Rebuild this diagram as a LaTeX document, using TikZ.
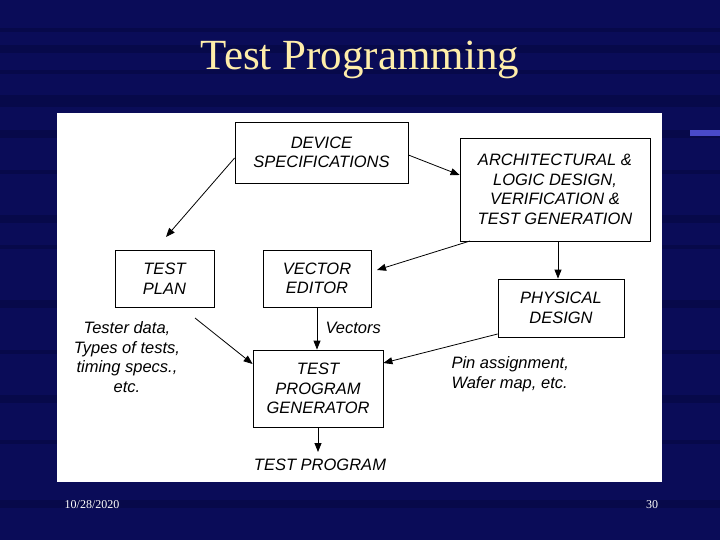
\documentclass[tikz,border=0pt]{standalone}
\usepackage{fontspec}
\setmainfont{Liberation Serif}
\newfontfamily\dsans{Liberation Sans}
\definecolor{bg}{RGB}{10,12,88}
\definecolor{bgd}{RGB}{4,6,50}
\definecolor{ttl}{RGB}{255,238,170}
\usetikzlibrary{arrows.meta}
\begin{document}
\begin{tikzpicture}[x=1pt,y=-1pt,
  bx/.style={draw,line width=0.8pt,inner sep=0pt,font=\dsans\itshape\fontsize{16.5}{19.5}\selectfont,align=center},
  lbl/.style={font=\dsans\itshape\fontsize{16.5}{19.5}\selectfont},
  ar/.style={-{Triangle[length=9pt,width=7pt]},line width=0.8pt}]
\useasboundingbox (0,0) rectangle (720,540);
\fill[bg] (0,0) rectangle (720,540);
\foreach \y/\w in {28/1,45/2,70/1,95/3,130/2,170/1,215/2,245/1,300/2,350/1,395/2,440/1,500/2} {
  \fill[bgd,opacity=0.35] (0,\y) rectangle (720,\y+\w*4);
}
\fill[blue!60!white,opacity=0.7] (690,130) rectangle (720,136);
\node (title) at (360,60) {\color{ttl}\fontsize{43}{46}\selectfont Test Programming};
\fill[white] (57,113) rectangle (662,482);
\node[bx,minimum width=173,minimum height=61] (dev) at (321.5,152.5) {DEVICE\\SPECIFICATIONS};
\node[bx,minimum width=190,minimum height=103] (arch) at (555,189.5) {ARCHITECTURAL \&\\LOGIC DESIGN,\\VERIFICATION \&\\TEST GENERATION};
\node[bx,minimum width=99,minimum height=57] (plan) at (164.5,278.5) {TEST\\PLAN};
\node[bx,minimum width=108,minimum height=57] (vec) at (317,278.5) {VECTOR\\EDITOR};
\node[bx,minimum width=126,minimum height=58] (phys) at (561,308) {PHYSICAL\\DESIGN};
\node[bx,minimum width=130,minimum height=77] (gen) at (318,388.5) {TEST\\PROGRAM\\GENERATOR};
\coordinate (out) at (318,452);
\node[lbl] (tp) at (320,465) {TEST PROGRAM};
\node[lbl,align=center] (td) at (127,357) {Tester data,\\Types of tests,\\timing specs.,\\etc.};
\node[lbl,align=left,anchor=west] (pin) at (448,374) {Pin assignment,\\Wafer map, etc.};
\node[lbl,anchor=west] (vl) at (322,328) {Vectors};
\draw[ar] (dev.west|-0,158) -- (166,237);
\draw[ar] (dev.east|-0,155) -- (arch.west|-0,175);
\draw[ar] (470,241) -- (377,270);
\draw[ar] (558,241) -- (phys.north-|558,0);
\draw[ar] (195,318) -- (gen.west|-0,364);
\draw[ar] (vec.south) -- (gen.north-|317,0);
\draw[ar] (phys.west|-0,334) -- (gen.east|-0,363);
\draw[ar] (gen.south) -- (out);
\node[white,font=\fontsize{12}{14}\selectfont] (date) at (92,505) {10/28/2020};
\node[white,font=\fontsize{12}{14}\selectfont] (pg) at (652,505) {30};
\end{tikzpicture}
\end{document}
